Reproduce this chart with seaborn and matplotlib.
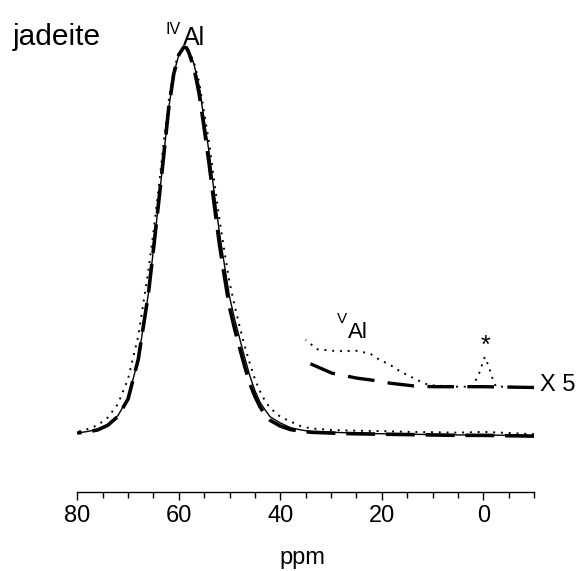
import numpy as np
import pandas as pd
import matplotlib
matplotlib.use("Agg")
import matplotlib.pyplot as plt
from matplotlib.ticker import MultipleLocator
import seaborn as sns

# chemical shift grid (ppm) shared by the three full spectra
ppm = [80, 78, 76, 74, 72, 70, 68, 66, 65, 64, 63, 62, 61, 60, 59, 58.5, 58,
       57, 56, 55, 54, 53, 52, 51, 50, 49, 48, 47, 46, 45, 44, 43, 42, 40,
       38, 36, 34, 30, 25, 20, 15, 10, 5, 0, -5, -10]

# experimental spectrum (solid)
solid = [0.0, 0.004, 0.009, 0.022, 0.045, 0.09, 0.19, 0.36, 0.475, 0.594,
         0.715, 0.84, 0.93, 0.98, 1.0, 1.0, 0.99, 0.955, 0.90, 0.81, 0.725,
         0.62, 0.52, 0.435, 0.353, 0.295, 0.245, 0.195, 0.148, 0.11, 0.08,
         0.06, 0.042, 0.026, 0.014, 0.008, 0.004, 0.002, 0.0, -0.002,
         -0.003, -0.004, -0.005, -0.005, -0.006, -0.007]

# simulation 1 (dotted)
dotted = [0.003, 0.01, 0.02, 0.04, 0.075, 0.14, 0.25, 0.42, 0.52, 0.63,
          0.75, 0.86, 0.94, 0.985, 1.0, 1.0, 0.99, 0.96, 0.91, 0.83, 0.75,
          0.65, 0.555, 0.47, 0.39, 0.33, 0.275, 0.225, 0.18, 0.14, 0.108,
          0.083, 0.065, 0.042, 0.03, 0.018, 0.012, 0.008, 0.006, 0.005,
          0.003, 0.002, 0.001, 0.003, 0.0, -0.003]

# simulation 2 (dashed)
dashed = [0.0, 0.003, 0.008, 0.02, 0.043, 0.088, 0.19, 0.36, 0.475, 0.594,
          0.715, 0.84, 0.93, 0.98, 1.0, 0.998, 0.985, 0.945, 0.88, 0.79,
          0.695, 0.59, 0.49, 0.405, 0.325, 0.27, 0.22, 0.172, 0.128, 0.095,
          0.068, 0.048, 0.033, 0.018, 0.009, 0.005, 0.002, 0.0, -0.002,
          -0.003, -0.004, -0.005, -0.006, -0.006, -0.007, -0.008]

# x5 expansion, offset above the baseline
ppm_x5_dot = [35, 32.7, 28.8, 24.8, 22.2, 20.6, 18.3, 16.3, 14.3, 12.3, 10.7,
              8, 5, 2.1, 0.8, -0.3, -1.1, -1.8, -2.5, -5, -10]
x5_dot = [0.241, 0.217, 0.212, 0.213, 0.205, 0.191, 0.176, 0.159, 0.146,
          0.133, 0.124, 0.122, 0.12, 0.12, 0.155, 0.197, 0.172, 0.142, 0.12,
          0.12, 0.118]
ppm_x5_dash = [34.7, 29.8, 24.8, 21.9, 18.3, 13.7, 10, 5, 0, -5, -10]
x5_dash = [0.183, 0.155, 0.142, 0.137, 0.129, 0.122, 0.12, 0.12, 0.12,
           0.119, 0.118]

sns.set_theme(style="white")
plt.rcParams["font.family"] = ["Liberation Sans", "DejaVu Sans"]
plt.rcParams["text.color"] = "black"
plt.rcParams["axes.labelcolor"] = "black"
plt.rcParams["xtick.color"] = "black"

fig = plt.figure(figsize=(5.78, 5.71), dpi=100)
ax = fig.add_axes([77.3 / 578, 1 - 492 / 571, (534 - 77.3) / 578,
                   (492 - 20) / 571])

full = pd.DataFrame({"ppm": ppm, "solid": solid, "dotted": dotted,
                     "dashed": dashed})
sns.lineplot(data=full, x="ppm", y="solid", ax=ax, color="black", lw=1.0)
sns.lineplot(data=full, x="ppm", y="dashed", ax=ax, color="black", lw=2.6,
             linestyle=(0, (8, 3)))
sns.lineplot(data=full, x="ppm", y="dotted", ax=ax, color="black", lw=1.4,
             linestyle=(0, (1, 3)))

sns.lineplot(x=ppm_x5_dash, y=x5_dash, ax=ax, color="black", lw=2.4,
             linestyle=(0, (8, 4)))
sns.lineplot(x=ppm_x5_dot, y=x5_dot, ax=ax, color="black", lw=1.4,
             linestyle=(0, (1, 3)))

ax.set_xlim(80, -10)
ax.set_ylim(-0.1528, 1.07)
ax.xaxis.set_major_locator(MultipleLocator(20))
ax.xaxis.set_minor_locator(MultipleLocator(5))
ax.tick_params(axis="x", which="major", direction="out", length=6,
               width=1, color="black", labelcolor="black", labelsize=17,
               pad=3, bottom=True)
ax.tick_params(axis="x", which="minor", direction="out", length=4,
               width=1, color="black", bottom=True)
ax.set_yticks([])
ax.set_ylabel("")
ax.set_xlabel("")
for s in ["left", "right", "top"]:
    ax.spines[s].set_visible(False)
ax.spines["bottom"].set_color("black")
ax.spines["bottom"].set_linewidth(1)

fig.text((77.3 + 534) / 2 / 578 - 0.005, 1 - 558 / 571, "ppm", fontsize=17,
         va="center", ha="center")
fig.text(12.7 / 578, 1 - 45 / 571, "jadeite", fontsize=21.5,
         va="baseline", ha="left")
ax.text(62.6, 1.064, "IV", fontsize=11.5, va="top", ha="left", clip_on=False)
ax.text(59.1, 1.005, "Al", fontsize=18, va="baseline", ha="left",
        clip_on=False)
ax.text(28.75, 0.313, "V", fontsize=11, va="top", ha="left")
ax.text(26.6, 0.246, "Al", fontsize=16, va="baseline", ha="left")
ax.text(-0.5, 0.226, "*", fontsize=18, va="center", ha="center")
ax.text(-11.2, 0.124, "X 5", fontsize=17, va="center", ha="left",
        clip_on=False)

fig.savefig("out.png", dpi=100)
